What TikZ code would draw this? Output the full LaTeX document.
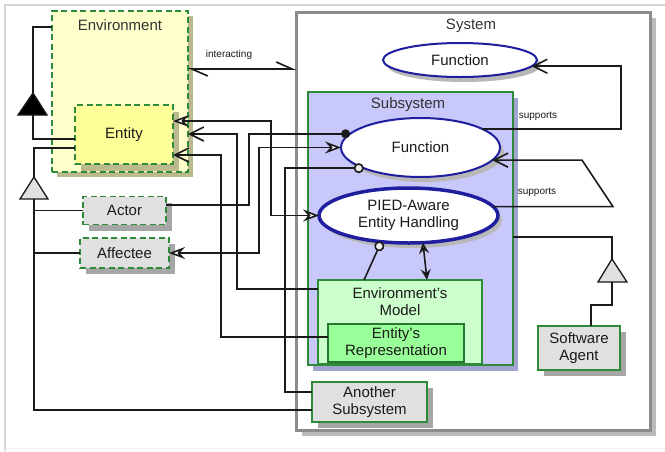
\documentclass[tikz,border=0pt]{standalone}
\usepackage{fontspec}
\setmainfont{Liberation Sans}
\usetikzlibrary{arrows.meta,shapes.geometric,shadows}
\definecolor{envfill}{HTML}{FFFFCC}
\definecolor{entfill}{HTML}{FFFF99}
\definecolor{khaki}{HTML}{BDB98E}
\definecolor{dgreen}{HTML}{2E8B3A}
\definecolor{boxgray}{HTML}{E0E0E0}
\definecolor{shgray}{HTML}{A6A6A6}
\definecolor{sysgray}{HTML}{8C8C8C}
\definecolor{sysshadow}{HTML}{BBBBBB}
\definecolor{lav}{HTML}{C8C8FA}
\definecolor{lavsh}{HTML}{A3A3D0}
\definecolor{lgreen}{HTML}{CCFFCC}
\definecolor{mgreen}{HTML}{99FF99}
\definecolor{eblue}{HTML}{1E1E9E}
\definecolor{ink}{HTML}{1A1A1A}
\definecolor{framegray}{HTML}{D6D6D6}
\tikzset{
  tipOS/.tip={Stealth[length=16pt,width=12pt,inset=5.5pt,fill=white]},
  tipOSs/.tip={Stealth[length=11pt,width=10pt,inset=4pt,fill=white]},
  tipB/.tip={Straight Barb[length=14pt,width=14pt]},
  tipH/.tip={Straight Barb[harpoon,length=16pt,width=14pt]},
  tipDot/.tip={Circle[length=9pt]},
  tipRing/.tip={Circle[length=10pt,fill=boxgray!60]},
}
\begin{document}
\begin{tikzpicture}[x=1pt,y=-1pt,
  every node/.style={font=\fontsize{15}{17}\selectfont, text=ink, inner sep=0pt, outer sep=0pt},
  dashbox/.style={rectangle, draw=dgreen, line width=1.8pt, dash pattern=on 6pt off 3.5pt},
  solidbox/.style={rectangle, draw=dgreen, line width=1.8pt},
  envshadow/.style={general shadow={fill=khaki, shadow xshift=5pt, shadow yshift=-5pt}},
  gshadow/.style={general shadow={fill=shgray, shadow xshift=6pt, shadow yshift=-6pt}},
  eshadow/.style={general shadow={fill=shgray!80, shadow xshift=4pt, shadow yshift=-5pt}},
  usecase/.style={ellipse, draw=eblue, fill=white, line width=2pt, align=center},
  conn/.style={draw=ink, line width=1.6pt},
  small/.style={font=\fontsize{10}{12}\selectfont},
  title/.style={text=black!80},
]
\path[use as bounding box] (0,0) rectangle (665,451);
\fill[white] (0,0) rectangle (665,451);
\draw[framegray, line width=1.5pt] (5,451) -- (5,5) -- (665,5);
\draw[framegray!40, line width=1pt] (5,448) -- (665,448);

% System
\node[draw=sysgray, line width=3pt, fill=white, minimum width=354pt, minimum height=418pt,
      general shadow={fill=sysshadow, shadow xshift=6pt, shadow yshift=-6pt}] (sys) at (473,221) {};
\node[title] (systitle) at (471,26) {System};
\node[usecase, eshadow, minimum width=154pt, minimum height=34pt] (sysfunc) at (460,60) {Function};

% Subsystem
\node[draw=dgreen, line width=1.5pt, fill=lav, minimum width=205pt, minimum height=273pt,
      general shadow={fill=lavsh, shadow xshift=5pt, shadow yshift=-6pt}] (subsys) at (410.5,228.5) {};
\node[title] (subsystitle) at (408,105) {Subsystem};
\node[usecase, eshadow, minimum width=159pt, minimum height=59pt] (subfunc) at (420.5,147.5) {Function};
\node[usecase, eshadow, line width=3.5pt, minimum width=179pt, minimum height=55pt] (pied) at (408.5,215.5) {PIED-Aware\\Entity Handling};
\node[solidbox, line width=1.5pt, fill=lgreen, minimum width=164pt, minimum height=84pt] (envmodel) at (400,322) {};
\node[align=center] (envmodeltxt) at (400,302) {Environment’s\\Model};
\node[solidbox, draw=dgreen!85!black, line width=2pt, fill=mgreen, minimum width=136pt, minimum height=38pt, align=center] (entrep) at (396,343) {Entity’s\\Representation};

\node[solidbox, fill=boxgray, minimum width=82pt, minimum height=44pt, align=center, gshadow] (softagent) at (579,348) {Software\\Agent};
\node[solidbox, fill=boxgray, minimum width=115pt, minimum height=40pt, align=center, gshadow] (another) at (369.5,402) {Another\\Subsystem};

% Environment side
\node[dashbox, fill=envfill, minimum width=136pt, minimum height=161pt, envshadow] (env) at (120,91.5) {};
\node[title] (envtitle) at (120,25) {Environment};
\node[dashbox, fill=entfill, minimum width=98pt, minimum height=59pt,
      general shadow={fill=khaki, shadow xshift=6pt, shadow yshift=-7pt}] (entity) at (124,134.5) {Entity};
\node[dashbox, fill=boxgray, minimum width=83pt, minimum height=28pt, gshadow] (actor) at (124.5,210.5) {Actor};
\node[dashbox, fill=boxgray, minimum width=89pt, minimum height=30pt, gshadow] (affectee) at (124.5,253) {Affectee};

% generalization triangles
\coordinate (g0top) at (33,93);  \coordinate (g0bot) at (33,115);
\coordinate (g1top) at (34,177); \coordinate (g1bot) at (34,199);
\coordinate (g2top) at (612,259); \coordinate (g2bot) at (612,282);
\draw[ink, line width=1.3pt, fill=black] (g0top) -- (47,115) -- (18,115) -- cycle;
\draw[ink, line width=1.3pt, fill=boxgray] (g1top) -- (48,199) -- (20,199) -- cycle;
\draw[ink, line width=1.3pt, fill=boxgray] (g2top) -- (627,282) -- (598,282) -- cycle;

% connectors
\draw[conn, tipH-tipH] (env.east |- 0,69) -- (sys.west |- 0,69);
\node[small] (lblint) at (229,55) {interacting};

\draw[conn, -tipDot] (actor.east |- 0,205) -| (subfunc.169 -| 249,0) -- (subfunc.169);
\draw[conn, tipOS-tipOS] (affectee.east) -| (subfunc.west -| 259,0) -- (subfunc.west);
\draw[conn, tipOS-tipOS] (entity.east |- 0,121) -| (pied.west -| 271,0) -- (pied.west);
\draw[conn, -tipB] (envmodel.west |- 0,289) -| (237,134) -- (env.east |- 0,134);
\draw[conn, -tipB] (entrep.west |- 0,337) -| (221,155) -- (entity.east |- 0,155);
\draw[conn, -tipRing] (another.west |- 0,392) -| (subfunc.200 -| 285,0) -- (subfunc.200);

\draw[conn] (env.west |- 0,27) -| (g0top);
\draw[conn] (entity.west |- 0,139) -| (g0bot);
\draw[conn] (entity.west |- 0,148) -| (g1top);
\draw[conn] (g1bot) |- (actor.west);
\draw[conn] (g1bot) |- (affectee.west);
\draw[conn] (g1bot) |- (another.west |- 0,410);

\draw[conn, -tipB] (subfunc.17) -| (sysfunc.355 -| 621,0) -- (sysfunc.355);
\node[small] (lblsup1) at (538,116) {supports};
\draw[conn, -tipB] (pied.6) -- (pied.6 -| 613,0) -- (582,0 |- subfunc.350) -- (subfunc.350);
\node[small] (lblsup2) at (537,192) {supports};

\draw[conn] (softagent.north -| 591,0) -- (591,305) -| (g2bot);
\draw[conn] (g2top) |- (subsys.east |- 0,237);

\draw[conn, -tipRing] (envmodel.north -| 364,0) -- (pied.224);
\draw[conn, tipOSs-tipOSs] (pied.298) -- (envmodel.north -| 427,0);
\end{tikzpicture}
\end{document}
